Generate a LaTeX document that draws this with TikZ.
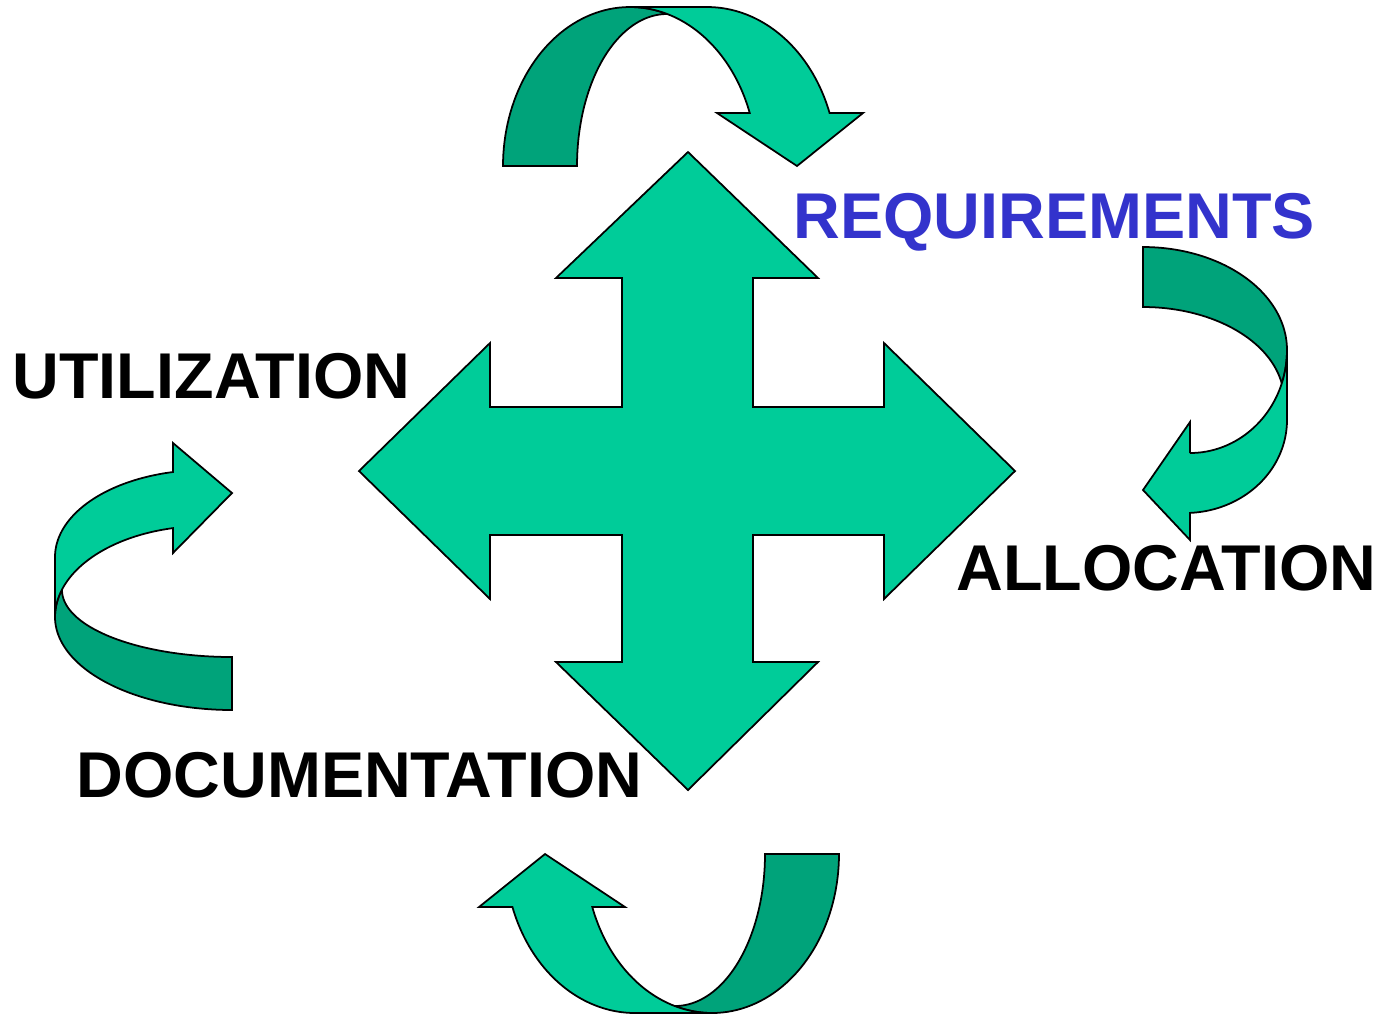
\documentclass[tikz,border=0pt]{standalone}
\usepackage{fontspec}
\setmainfont{Liberation Sans}
\usepackage{xcolor}

\definecolor{bandlight}{RGB}{0,204,153}
\definecolor{bandshade}{RGB}{0,163,122}
\definecolor{reqblue}{RGB}{51,51,204}

\begin{document}
\begin{tikzpicture}[x=0.01cm,y=0.01cm,
        lightband/.style={draw=black,fill=bandlight,line width=0.5pt},
        darkband/.style={draw=black,fill=bandshade,line width=0.5pt},
        stagelbl/.style={font=\bfseries\fontsize{18.4}{20}\selectfont,inner sep=0pt,anchor=base west}]
        \useasboundingbox (0,0) rectangle (1376,-1017);

        % four-way arrow
        \draw[lightband] (688,-152) -- (818,-278) -- (753,-278) -- (753,-407) -- (884,-407) -- (884,-343)
            -- (1015,-471) -- (884,-599) -- (884,-535) -- (753,-535) -- (753,-662) -- (818,-662)
            -- (688,-790) -- (556,-662) -- (622,-662) -- (622,-535) -- (490,-535) -- (490,-599)
            -- (359,-471) -- (490,-343) -- (490,-407) -- (622,-407) -- (622,-278) -- (556,-278) -- cycle;

        % top and bottom bent arrows
        \foreach \ang in {0,180}{
            \begin{scope}[rotate around={\ang:(671,-510)}]
                \draw[darkband,samples=50] plot[domain=180:72.9] ({630+127*cos(\x)},{-166+159*sin(\x)})
                    -- plot[domain=90:180] ({667+90*cos(\x)},{-166+152*sin(\x)}) -- cycle;
                \draw[lightband,samples=50] (630,-7) -- (707,-7)
                    -- plot[domain=90:19.47] ({707+130*cos(\x)},{-166+159*sin(\x)})
                    -- (863,-113) -- (797,-166) -- (717,-113)
                    -- plot[domain=19.47:90] ({630+127*cos(\x)},{-166+159*sin(\x)}) -- cycle;
            \end{scope}
        }

        % right bent arrow
        \draw[darkband,samples=50] (1143,-307) -- (1143,-247)
            -- plot[domain=90:0] ({1143+144*cos(\x)},{-350+103*sin(\x)})
            -- plot[domain=0:-18.5] ({1190+97*cos(\x)},{-350+103*sin(\x)})
            -- plot[domain=9.6:90] ({1143+141*cos(\x)},{-400+93*sin(\x)}) -- cycle;
        \draw[lightband,samples=50] (1190,-453) -- (1190,-422) -- (1143,-490) -- (1190,-540)
            -- plot[domain=272.8:360] ({1185+102*cos(\x)},{-420+93*sin(\x)})
            -- (1287,-350)
            -- plot[domain=0:-90] ({1190+97*cos(\x)},{-350+103*sin(\x)}) -- cycle;

        % left bent arrow
        \draw[darkband,samples=50] plot[domain=180:270] ({232+177*cos(\x)},{-617+93*sin(\x)})
            -- (232,-657)
            -- plot[domain=270:180] ({232+170*cos(\x)},{-590+67*sin(\x)})
            -- plot[domain=162.4:180] ({205+150*cos(\x)},{-617+91*sin(\x)}) -- cycle;
        \draw[lightband,samples=50] (173,-443) -- (232,-493) -- (173,-553)
            -- plot[domain=102.3:180] ({205+150*cos(\x)},{-617+91*sin(\x)})
            -- (55,-557)
            -- plot[domain=180:102.3] ({205+150*cos(\x)},{-557+87*sin(\x)}) -- cycle;

        % stage names
        \node[stagelbl,text=reqblue] (req) at (793,-238) {REQUIREMENTS};
        \node[stagelbl] (util) at (12,-398) {UTILIZATION};
        \node[stagelbl] (alloc) at (956,-590) {ALLOCATION};
        \node[stagelbl] (doc) at (76,-797) {DOCUMENTATION};

    \end{tikzpicture}
\end{document}
